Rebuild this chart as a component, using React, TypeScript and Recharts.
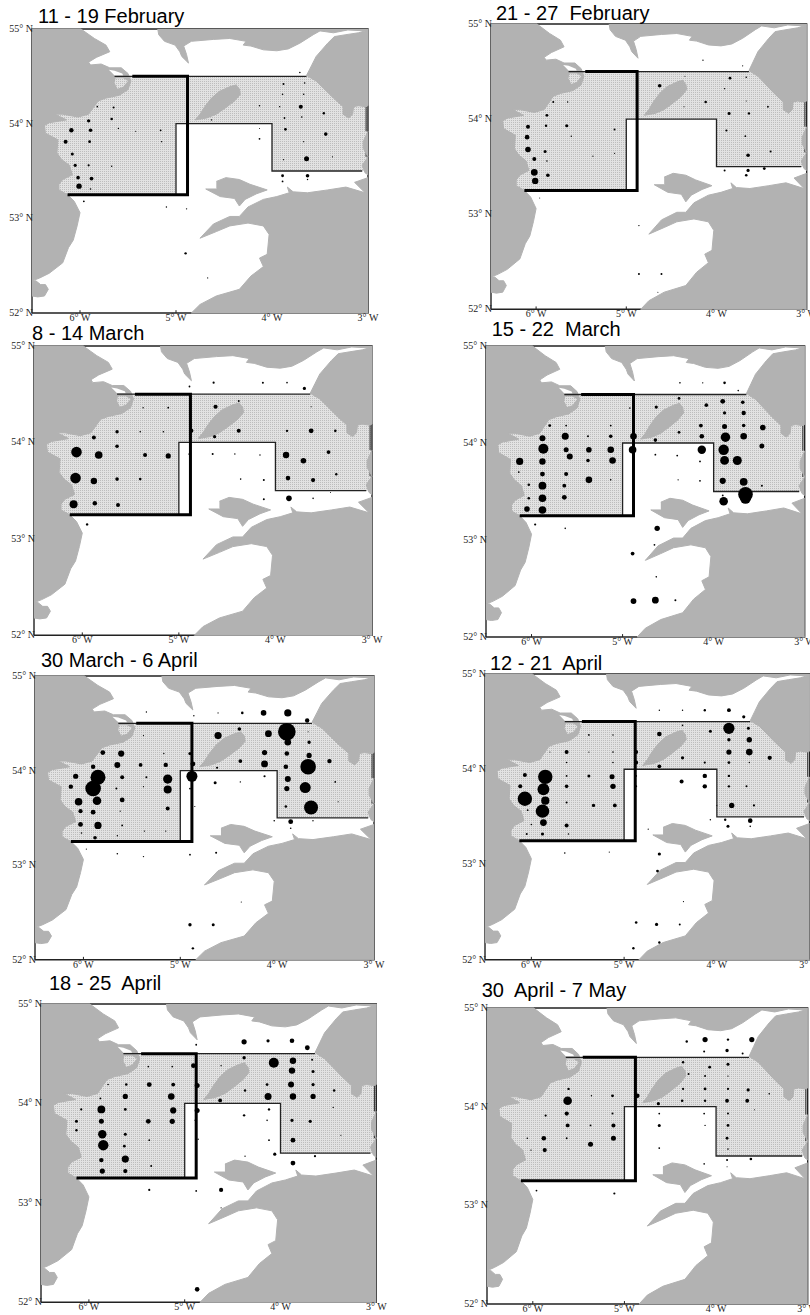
import { ScatterChart, Scatter, XAxis, YAxis, ZAxis } from "recharts";

type Coast = [number, number][];
type Station = [number, number, number]; // lon, lat, density index

const lonTicks = [-6, -5, -4, -3];
const latTicks = [52, 53, 54, 55];

// coastlines, lon / lat
const ireland: Coast = [[-6.5,55],[-5.99,55],[-5.85,54.9],[-5.73,54.83],[-5.69,54.76],[-5.83,54.7],[-5.91,54.65],[-5.89,54.62],[-5.78,54.63],[-5.69,54.59],[-5.57,54.59],[-5.5,54.53],[-5.47,54.45],[-5.5,54.36],[-5.59,54.3],[-5.73,54.27],[-5.81,54.24],[-5.86,54.17],[-5.91,54.1],[-6.02,54.07],[-6.18,54.1],[-6.26,54.1],[-6.14,54.04],[-6.32,54.01],[-6.37,53.98],[-6.36,53.9],[-6.23,53.83],[-6.24,53.69],[-6.19,53.62],[-6.11,53.56],[-6.08,53.46],[-6.18,53.41],[-6.22,53.36],[-6.22,53.3],[-6.13,53.25],[-6.06,53.18],[-6,53.06],[-6.03,52.92],[-6.07,52.77],[-6.12,52.69],[-6.18,52.53],[-6.32,52.42],[-6.42,52.37],[-6.47,52.35],[-6.5,52.34]];
const wexford: Coast = [[-6.5,52.34],[-6.46,52.34],[-6.41,52.3],[-6.36,52.3],[-6.33,52.25],[-6.37,52.18],[-6.44,52.17],[-6.5,52.18]];
const scotland: Coast = [[-5.19,55],[-5.18,54.94],[-5.12,54.87],[-5.01,54.83],[-4.96,54.76],[-4.94,54.71],[-4.87,54.64],[-4.89,54.73],[-4.92,54.82],[-4.84,54.87],[-4.61,54.89],[-4.44,54.9],[-4.27,54.87],[-4.3,54.83],[-4.22,54.82],[-4.09,54.78],[-3.95,54.77],[-3.83,54.79],[-3.71,54.85],[-3.57,54.94],[-3.5,54.98],[-3.36,54.96],[-3.21,54.99],[-3.03,54.98],[-3.1,54.96],[-3.23,54.94],[-3.35,54.92],[-3.42,54.85],[-3.54,54.71],[-3.59,54.61],[-3.64,54.51],[-3.54,54.45],[-3.36,54.27],[-3.26,54.18],[-3.26,54.1],[-3.2,54.06],[-3.16,54.1],[-3.15,54.18],[-3.1,54.19],[-3.03,54.18],[-3,54.19],[-3,55]];
const isleOfMan: Coast = [[-4.37,54.41],[-4.44,54.39],[-4.55,54.34],[-4.63,54.27],[-4.7,54.18],[-4.75,54.1],[-4.8,54.04],[-4.68,54.06],[-4.58,54.1],[-4.48,54.17],[-4.39,54.24],[-4.33,54.31],[-4.34,54.37]];
const wales: Coast = [[-3,53.43],[-3.14,53.38],[-3.03,53.27],[-3.23,53.33],[-3.42,53.3],[-3.63,53.27],[-3.78,53.28],[-3.84,53.33],[-3.82,53.27],[-3.95,53.23],[-4.09,53.2],[-4.25,53.12],[-4.34,53.02],[-4.44,53.02],[-4.61,52.94],[-4.75,52.79],[-4.58,52.86],[-4.44,52.92],[-4.25,52.95],[-4.09,52.92],[-4.03,52.83],[-4.05,52.62],[-4.13,52.58],[-4.09,52.49],[-4.22,52.39],[-4.34,52.25],[-4.58,52.18],[-4.75,52.09],[-4.84,52],[-3,52]];
const anglesey: Coast = [[-4.58,53.39],[-4.48,53.43],[-4.34,53.41],[-4.23,53.36],[-4.05,53.3],[-4.16,53.26],[-4.28,53.2],[-4.34,53.13],[-4.39,53.21],[-4.54,53.23],[-4.69,53.31],[-4.58,53.31]];
const lancashire: Coast = [[-3,53.92],[-3.05,53.81],[-3.05,53.74],[-3,53.65],[-3.06,53.56],[-3.03,53.48],[-3,53.46]];
const lough: Coast = [[-5.7,54.57],[-5.64,54.56],[-5.56,54.53],[-5.55,54.51],[-5.64,54.51],[-5.67,54.54]];
const inlet: Coast = [[-5.63,54.48],[-5.55,54.48],[-5.5,54.45],[-5.55,54.39],[-5.61,54.37],[-5.64,54.43]];

// survey boxes
const surveyArea: Coast = [[-6.4,54.5],[-3,54.5],[-3,53.5],[-4,53.5],[-4,54],[-5,54],[-5,53.25],[-6.4,53.25]];
const thickBox: Coast = [[-5.455,54.5],[-4.88,54.5],[-4.88,53.25],[-6.13,53.25]];
const thinBox: Coast = [[-5.64,54.5],[-3.64,54.5]];
const thinStep: Coast = [[-5,53.25],[-5,54],[-4,54],[-4,53.5],[-3.06,53.5]];
const frame: Coast = [[-6.5,52],[-6.5,55],[-3,55],[-3,52],[-6.5,52]];
const edgeMarks: Coast[] = [[[-3.02,54.18],[-3.02,53.92]],[[-3.02,53.74],[-3.02,53.65]],[[-6,52],[-6,52.03]],[[-5,52],[-5,52.03]]];

const feb11: Station[] = [[-3.71,54.54,.8],[-3.88,54.42,1],[-3.66,54.43,.8],[-3.89,54.31,.8],[-3.67,54.31,.8],[-5.82,54.18,.8],[-5.65,54.17,1],[-4.13,54.19,.7],[-3.92,54.18,.7],[-3.7,54.18,2],[-3.46,54.11,1.2],[-3.87,54.06,.9],[-3.69,54.07,.8],[-5.91,54.03,1.7],[-5.67,54.05,1.3],[-4.63,54.04,.7],[-5.6,53.95,.7],[-5.42,53.92,.6],[-5.16,53.93,.9],[-4.13,53.95,.5],[-6.09,53.93,2.2],[-5.89,53.93,1.8],[-3.86,53.94,1.4],[-3.44,53.89,1.8],[-6.15,53.81,2],[-5.9,53.81,1.4],[-5.15,53.81,.7],[-4.13,53.84,.9],[-3.67,53.81,.6],[-6.08,53.68,1.5],[-6.05,53.56,1.6],[-5.91,53.56,1.1],[-5.67,53.55,.7],[-3.88,53.62,.6],[-3.64,53.63,2.5],[-3.37,53.65,.6],[-6.02,53.43,1.8],[-5.88,53.42,1.9],[-6.01,53.34,2.7],[-5.89,53.31,.8],[-3.89,53.45,1.4],[-3.63,53.45,1.8],[-3.63,53.41,.7],[-3.89,53.39,.9],[-5.96,53.18,.9],[-5.1,53.12,.7],[-4.89,53.1,.7],[-4.9,52.63,1.2],[-4.67,52.37,.6]];
const feb21: Station[] = [[-4.15,54.62,.7],[-3.71,54.56,.6],[-4.35,54.45,.5],[-3.85,54.43,1.4],[-3.67,54.44,.8],[-4.63,54.35,1.8],[-3.91,54.32,.7],[-5.81,54.18,1],[-5.65,54.18,.7],[-4.12,54.18,1.3],[-3.67,54.19,.5],[-4.36,54.13,.6],[-3.43,54.13,.9],[-5.88,54.04,1.4],[-3.86,54.06,1.5],[-3.64,54.06,1.2],[-6.09,53.92,2],[-5.89,53.93,1.2],[-5.66,53.93,1.6],[-5.13,53.89,1],[-3.89,53.88,1.1],[-6.1,53.81,2.3],[-5.61,53.82,.7],[-3.68,53.82,.9],[-6.09,53.68,2.8],[-5.9,53.66,1.5],[-3.4,53.66,1],[-6.02,53.58,2],[-5.88,53.56,.8],[-5.37,53.61,.6],[-5.13,53.64,.6],[-3.65,53.62,1.8],[-6.02,53.44,3.4],[-5.87,53.41,1.8],[-6.01,53.35,3.2],[-3.91,53.46,1],[-3.65,53.46,1.6],[-3.47,53.48,1.4],[-3.67,53.41,1.3],[-5.96,53.17,.5],[-4.86,52.88,.7],[-4.86,52.37,1],[-4.61,52.37,1],[-4.65,52.18,.5]];
const mar8: Station[] = [[-4.89,54.58,.9],[-4.64,54.62,1.1],[-4.13,54.62,1],[-3.88,54.62,.8],[-3.7,54.56,1.6],[-5.37,54.36,.7],[-5.11,54.36,.9],[-4.62,54.37,2.1],[-4.38,54.43,1],[-3.63,54.37,.6],[-5.64,54.11,1.7],[-5.4,54.11,.8],[-5.16,54.11,.8],[-4.87,54.12,2],[-4.38,54.12,2],[-3.88,54.12,1.2],[-3.63,54.12,2.4],[-3.38,54.12,1.3],[-5.88,54.05,2],[-4.63,54.06,1.6],[-5.64,53.96,1.8],[-6.06,53.9,5.3],[-5.83,53.87,3.8],[-5.35,53.87,2],[-5.11,53.86,2.6],[-4.9,53.88,.5],[-4.65,53.88,1],[-4.42,53.88,.7],[-4.16,53.87,.7],[-3.89,53.87,3.2],[-3.71,53.81,2.8],[-3.45,53.9,1.9],[-6.07,53.63,5.3],[-5.88,53.6,3.2],[-5.64,53.62,1.8],[-5.4,53.62,1.3],[-4.36,53.62,.8],[-4.12,53.61,1],[-3.87,53.63,2.3],[-3.61,53.61,2.1],[-3.37,53.67,1.2],[-6.09,53.36,4],[-5.87,53.37,2.2],[-5.63,53.35,2],[-4.12,53.41,1],[-3.86,53.42,2.8],[-3.61,53.42,.8],[-3.43,53.48,.5],[-5.95,53.15,1.2]];
const mar15: Station[] = [[-4.37,54.62,.8],[-4.12,54.62,.7],[-3.88,54.62,1.3],[-3.73,54.54,.8],[-4.38,54.46,1.4],[-3.9,54.43,2.4],[-3.68,54.42,1.8],[-4.92,54.36,.8],[-4.63,54.37,1.6],[-4.08,54.39,1.8],[-3.88,54.31,1.6],[-3.67,54.31,2.2],[-5.8,54.18,1.4],[-5.62,54.18,.9],[-5.13,54.18,.9],[-4.14,54.18,1.9],[-3.88,54.17,2.5],[-3.67,54.18,1.8],[-3.46,54.16,2.8],[-4.38,54.11,1.4],[-5.88,54.05,3],[-5.63,54.07,3.5],[-5.38,54.07,1],[-5.13,54.07,1.8],[-4.88,54.07,3.3],[-4.64,54.03,1.8],[-4.13,54.07,2.3],[-3.87,54.06,4.7],[-3.67,54.07,3.3],[-5.87,53.94,5],[-5.62,53.93,2.5],[-5.37,53.93,2.8],[-5.13,53.93,3.3],[-4.89,53.93,3.8],[-4.13,53.93,4.2],[-3.89,53.93,5.2],[-3.47,53.97,2.5],[-5.58,53.86,3],[-6.13,53.81,3.6],[-5.88,53.81,3.2],[-5.38,53.82,1.8],[-5.11,53.82,3.3],[-4.64,53.88,.9],[-4.4,53.87,.9],[-4.15,53.81,.9],[-3.88,53.82,4.4],[-3.74,53.82,4.5],[-4.87,53.81,.6],[-6.14,53.7,.9],[-5.88,53.68,2.4],[-5.62,53.68,2],[-5.37,53.62,3.3],[-5.13,53.62,.8],[-4.39,53.62,.7],[-4.15,53.61,.9],[-3.9,53.61,3.1],[-3.67,53.6,3.9],[-6.03,53.57,1.3],[-5.88,53.56,3.9],[-5.64,53.56,1.9],[-3.47,53.56,1],[-6.03,53.43,1.3],[-5.88,53.43,3.8],[-5.64,53.44,2.4],[-3.65,53.47,7.3],[-3.65,53.43,5.5],[-3.9,53.46,.9],[-3.89,53.4,4.3],[-6.05,53.32,2.8],[-5.88,53.31,3.8],[-5.96,53.16,1.1],[-5.63,53.12,.8],[-4.62,53.12,2.7],[-4.65,52.95,.9],[-4.89,52.86,1.9],[-4.63,52.62,.8],[-4.88,52.37,2.9],[-4.64,52.38,3.4],[-4.42,52.38,1]];
const mar30: Station[] = [[-5.35,54.62,.7],[-4.86,54.58,.7],[-4.61,54.61,.6],[-4.36,54.61,1.3],[-4.14,54.61,2.8],[-3.89,54.61,3.6],[-3.69,54.53,2.2],[-5.38,54.37,.6],[-4.61,54.37,3.6],[-4.39,54.44,1.8],[-4.09,54.39,3.4],[-3.9,54.41,8.8],[-3.68,54.41,.5],[-3.89,54.3,3.3],[-3.67,54.3,1.7],[-5.8,54.19,2.4],[-5.61,54.18,3.1],[-5.17,54.18,.7],[-4.9,54.18,1.6],[-4.13,54.19,2.6],[-3.9,54.18,2.3],[-3.67,54.16,2.6],[-5.9,54.04,2.2],[-5.65,54.06,3],[-5.41,54.06,1.9],[-5.15,54.06,2.2],[-4.87,54.07,2.4],[-4.62,54.03,1.1],[-4.38,54.1,1.9],[-4.13,54.07,3.4],[-3.91,54.04,2.3],[-3.68,54.04,7.8],[-3.46,54.1,2.2],[-6.08,53.94,2.6],[-5.85,53.93,7.5],[-5.6,53.93,2],[-5.35,53.93,1],[-5.13,53.91,4.6],[-4.88,53.94,5.5],[-4.13,53.94,1.1],[-3.89,53.91,3],[-4.64,53.87,1.5],[-4.38,53.88,.7],[-6.13,53.83,2.2],[-5.9,53.81,7.8],[-5.66,53.81,1],[-5.38,53.83,.6],[-5.13,53.8,4],[-4.9,53.81,.9],[-3.9,53.81,2.6],[-3.71,53.82,5.5],[-3.4,53.88,.9],[-6.05,53.67,3.8],[-5.86,53.68,4.3],[-5.6,53.69,2.4],[-5.62,53.57,.6],[-5.13,53.6,2],[-4.85,53.62,.6],[-3.91,53.62,1.3],[-3.65,53.61,7],[-3.37,53.67,.6],[-6.03,53.57,2.1],[-5.9,53.56,2.4],[-6.03,53.43,2.4],[-5.85,53.42,3.6],[-5.6,53.42,.9],[-5.37,53.36,.7],[-5.15,53.36,.7],[-6.02,53.34,.8],[-5.65,53.31,.7],[-5.88,53.29,1.8],[-4.03,53.47,.8],[-3.86,53.46,2.4],[-3.63,53.47,.7],[-3.86,53.39,.8],[-5.97,53.17,.6],[-5.65,53.12,.8],[-5.38,53.09,.7],[-4.9,53.11,.9],[-4.63,53.13,1],[-4.37,52.61,.6],[-4.9,52.37,1.7],[-4.66,52.37,1.5],[-4.87,52.12,1.2]];
const apr12: Station[] = [[-4.62,54.62,.7],[-4.37,54.62,.7],[-4.13,54.62,1.2],[-3.87,54.62,1.9],[-3.71,54.55,1.6],[-3.87,54.43,5.6],[-3.66,54.43,1.5],[-4.37,54.46,.8],[-4.07,54.4,1.5],[-4.62,54.37,2.3],[-5.38,54.36,.9],[-5.12,54.36,.7],[-3.87,54.31,1.7],[-3.65,54.31,2.7],[-5.8,54.18,.5],[-5.62,54.18,2],[-5.38,54.18,.6],[-5.12,54.18,.8],[-4.87,54.18,2],[-3.87,54.18,2.6],[-3.65,54.18,3.3],[-4.37,54.12,1.6],[-4.13,54.07,1.1],[-3.87,54.07,1.4],[-3.65,54.07,.7],[-3.43,54.12,2.1],[-5.62,54.07,.8],[-5.12,54.07,.8],[-4.87,54.07,2],[-4.62,54.03,1.9],[-6.07,53.94,2],[-5.85,53.92,7.2],[-5.62,53.93,.9],[-5.38,53.93,1.5],[-5.13,53.92,2.5],[-4.87,53.93,.9],[-4.13,53.93,2.2],[-3.87,53.93,1.2],[-6.12,53.82,2],[-5.87,53.79,5.9],[-5.62,53.82,1.8],[-5.12,53.82,2.7],[-4.87,53.82,1],[-4.38,53.87,2],[-4.13,53.82,2.2],[-3.87,53.82,1.2],[-3.68,53.82,1],[-6.07,53.69,7.2],[-5.85,53.67,4.1],[-5.62,53.65,1],[-5.33,53.62,1.7],[-5.1,53.62,1.9],[-4,53.62,.5],[-3.84,53.62,2.7],[-3.6,53.62,1.1],[-6.04,53.57,.9],[-5.88,53.56,6.7],[-5.87,53.44,3.4],[-6,53.42,.8],[-5.62,53.41,2],[-6.05,53.32,1],[-5.88,53.32,1.6],[-5.6,53.32,.7],[-4.07,53.47,.7],[-3.91,53.47,1.2],[-3.64,53.46,2.3],[-3.88,53.4,1.5],[-3.64,53.4,.8],[-4.74,53.37,.6],[-5.64,53.12,.8],[-5.16,53.13,.6],[-4.62,53.11,1.6],[-4.64,52.93,1.4],[-4.36,52.61,.6],[-4.87,52.39,1.3],[-4.65,52.37,1.6],[-4.4,52.37,1],[-4.62,52.18,1.2],[-4.9,52.12,1.2]];
const apr18: Station[] = [[-4.88,54.59,.9],[-4.38,54.62,2.6],[-4.13,54.63,1.6],[-3.88,54.63,2.3],[-3.72,54.56,2.4],[-4.38,54.46,1.7],[-4.07,54.41,5],[-3.87,54.43,3.2],[-3.67,54.44,1],[-5.38,54.37,.8],[-5.13,54.37,.8],[-4.91,54.38,2.3],[-4.62,54.38,.7],[-3.88,54.33,3.2],[-3.66,54.32,1.5],[-5.8,54.19,.8],[-5.61,54.19,1.3],[-5.37,54.19,2.4],[-5.12,54.19,1.9],[-4.87,54.18,2.5],[-4.14,54.19,1.4],[-3.89,54.19,3],[-3.66,54.19,1.6],[-4.37,54.13,1.2],[-3.44,54.13,1.3],[-5.62,54.07,2.6],[-5.14,54.07,3.3],[-4.63,54.03,1.9],[-4.13,54.07,3.5],[-3.87,54.07,3.2],[-3.66,54.07,2.6],[-5.88,54.05,.9],[-6.08,53.94,1.1],[-5.87,53.94,3.9],[-5.62,53.94,1.4],[-5.12,53.93,3.1],[-4.87,53.93,2.5],[-4.12,53.94,1.2],[-3.45,53.96,.7],[-4.38,53.88,1.2],[-6.13,53.82,1.5],[-5.87,53.82,2.5],[-5.38,53.82,2.4],[-5.13,53.82,2.6],[-4.89,53.83,.8],[-4.14,53.83,.8],[-3.88,53.83,1.7],[-3.69,53.82,1.6],[-6.13,53.73,1.2],[-5.86,53.69,4.2],[-5.62,53.69,1.5],[-3.37,53.68,.6],[-5.85,53.58,5.2],[-5.37,53.63,.9],[-5.63,53.57,1.4],[-4.86,53.64,.7],[-4.12,53.63,.9],[-3.87,53.63,2.4],[-5.87,53.43,2.2],[-5.62,53.44,3.6],[-5.35,53.37,1],[-4.37,53.47,.7],[-4.06,53.49,1.6],[-3.64,53.47,1.1],[-3.87,53.4,2.4],[-5.86,53.32,2.6],[-5.62,53.32,2.1],[-5.37,53.13,1.1],[-4.88,53.12,.9],[-4.62,53.13,2.1],[-4.62,52.95,.6],[-4.87,52.13,2.3]];
const apr30: Station[] = [[-4.32,54.66,1.2],[-4.12,54.68,2.6],[-3.87,54.68,1.2],[-3.61,54.68,2.6],[-4.13,54.56,1],[-3.88,54.57,1.7],[-3.71,54.54,1],[-4.36,54.45,1.2],[-3.87,54.43,1.5],[-4.07,54.4,1.4],[-4.3,54.33,1],[-4.12,54.31,1],[-3.87,54.31,.7],[-5.61,54.18,1.2],[-4.36,54.18,1.1],[-4.12,54.18,1.4],[-3.87,54.18,1.1],[-3.65,54.17,1.6],[-3.42,54.13,.8],[-5.36,54.11,.7],[-5.13,54.11,1.4],[-4.86,54.11,2.3],[-5.62,54.06,4.3],[-4.63,54.03,1.6],[-4.37,54.06,1.3],[-4.12,54.06,1.2],[-3.88,54.06,1.9],[-3.66,54.06,1.9],[-3.58,53.97,.5],[-5.86,53.91,1.1],[-5.63,53.93,2.1],[-5.13,53.93,1],[-4.62,53.93,.9],[-4.13,53.93,.9],[-3.87,53.93,1],[-5.62,53.81,1.9],[-5.37,53.81,.9],[-5.12,53.81,2],[-4.62,53.81,1.5],[-4.12,53.81,.7],[-3.87,53.81,1.4],[-6.06,53.68,.8],[-5.88,53.68,2.3],[-5.63,53.68,.9],[-5.12,53.68,2.5],[-3.88,53.68,1.4],[-5.37,53.62,2.5],[-4.62,53.58,.9],[-3.87,53.57,.8],[-6.02,53.56,.7],[-5.87,53.56,2.1],[-3.88,53.46,1],[-3.62,53.47,1.3],[-4.13,53.42,.8],[-3.88,53.39,.5],[-5.96,53.15,.9],[-5.11,53.12,1.1]];

const panels = [
  { title: "11 - 19 February", stations: feb11, x: 32.3, y: 29.3, w: 336, h: 284, tx: 38, ty: 6 },
  { title: "21 - 27  February", stations: feb21, x: 491, y: 24, w: 315.7, h: 285.3, tx: 496, ty: 3 },
  { title: "8 - 14 March", stations: mar8, x: 34.3, y: 345.7, w: 338, h: 289.3, tx: 32, ty: 323 },
  { title: "15 - 22  March", stations: mar15, x: 486.3, y: 345.7, w: 318.7, h: 291, tx: 491.7, ty: 319 },
  { title: "30 March - 6 April", stations: mar30, x: 35, y: 675.7, w: 339, h: 283.7, tx: 41, ty: 650 },
  { title: "12 - 21  April", stations: apr12, x: 484.7, y: 674.3, w: 324.6, h: 285.7, tx: 490, ty: 653 },
  { title: "18 - 25  April", stations: apr18, x: 40.7, y: 1004, w: 335.3, h: 298.3, tx: 49, ty: 973 },
  { title: "30  April - 7 May", stations: apr30, x: 487, y: 1008.3, w: 320.7, h: 296, tx: 481.7, ty: 980 },
];

const GREY = "#b2b2b2";
const tickFont = { fontFamily: "Liberation Serif", fontSize: 10, fill: "#222" };

const toPoints = (c: Coast) => c.map(([lon, lat]) => ({ lon, lat }));
const noDot = () => <g />;

function outline(c: Coast, key: string, fill: string, stroke: string, strokeWidth: number) {
  return (
    <Scatter
      key={key}
      data={toPoints(c)}
      shape={noDot}
      line={{ fill, stroke, strokeWidth }}
      isAnimationActive={false}
      legendType="none"
    />
  );
}

const LonTick = (p: any) => (
  <text x={p.x} y={p.y + 8} textAnchor="middle" {...tickFont}>
    {`${Math.abs(p.payload.value)}° W`}
  </text>
);

const LatTick = (p: any) => (
  <text x={p.x + 1} y={p.y + 3} textAnchor="end" {...tickFont}>
    {`${p.payload.value}° N`}
  </text>
);

function SurveyMap({ panel }: { panel: (typeof panels)[number] }) {
  const dots = panel.stations.map(([lon, lat, d]) => ({ lon, lat, z: d * d }));
  return (
    <div style={{ position: "absolute", left: panel.x - 30, top: panel.y - 8 }}>
      <ScatterChart
        width={panel.w + 52}
        height={panel.h + 30}
        margin={{ top: 8, right: 22, bottom: 0, left: 0 }}
      >
        <XAxis
          type="number"
          dataKey="lon"
          domain={[-6.5, -3]}
          ticks={lonTicks}
          interval={0}
          height={22}
          axisLine={false}
          tickLine={false}
          tickSize={0}
          tickMargin={0}
          tick={LonTick}
        />
        <YAxis
          type="number"
          dataKey="lat"
          domain={[52, 55]}
          ticks={latTicks}
          interval={0}
          width={30}
          axisLine={false}
          tickLine={false}
          tickSize={0}
          tickMargin={0}
          tick={LatTick}
        />
        <ZAxis type="number" dataKey="z" domain={[0, 100]} range={[0, 314.16]} />
        {outline(surveyArea, "area", "url(#stipple)", "none", 0)}
        {outline(frame, "frame", "none", "#222", 1.4)}
        {edgeMarks.map((m, i) => outline(m, `mark${i}`, "none", "#222", 1))}
        {[ireland, wexford, scotland, isleOfMan, wales, anglesey, lancashire].map((c, i) =>
          outline(c, `land${i}`, GREY, GREY, 1)
        )}
        {outline(lough, "lough", "#fff", "none", 0)}
        {outline(inlet, "inlet", "url(#stipple)", "none", 0)}
        {outline(thinBox, "thin", "none", "#222", 1.3)}
        {outline(thinStep, "step", "none", "#222", 1.3)}
        {outline(thickBox, "thick", "none", "#000", 3)}
        <Scatter data={dots} fill="#000" isAnimationActive={false} legendType="none" />
      </ScatterChart>
    </div>
  );
}

export default function App() {
  return (
    <div style={{ position: "absolute", left: 0, top: 0, width: 810, height: 1315, overflow: "hidden", background: "#fff" }}>
      <svg width={4} height={4} style={{ position: "absolute", left: 0, top: 0 }}>
        <defs>
          <pattern id="stipple" width={2} height={2} patternUnits="userSpaceOnUse">
            <rect width={2} height={2} fill="#e2e2e2" />
            <rect width={1} height={1} fill="#bdbdbd" />
          </pattern>
        </defs>
      </svg>
      {panels.map((p) => (
        <div key={p.title}>
          <SurveyMap panel={p} />
          <div
            style={{
              position: "absolute",
              left: p.tx,
              top: p.ty,
              fontFamily: "Liberation Sans",
              fontSize: 20,
              lineHeight: "20px",
              color: "#000",
              whiteSpace: "pre",
            }}
          >
            {p.title}
          </div>
        </div>
      ))}
    </div>
  );
}
